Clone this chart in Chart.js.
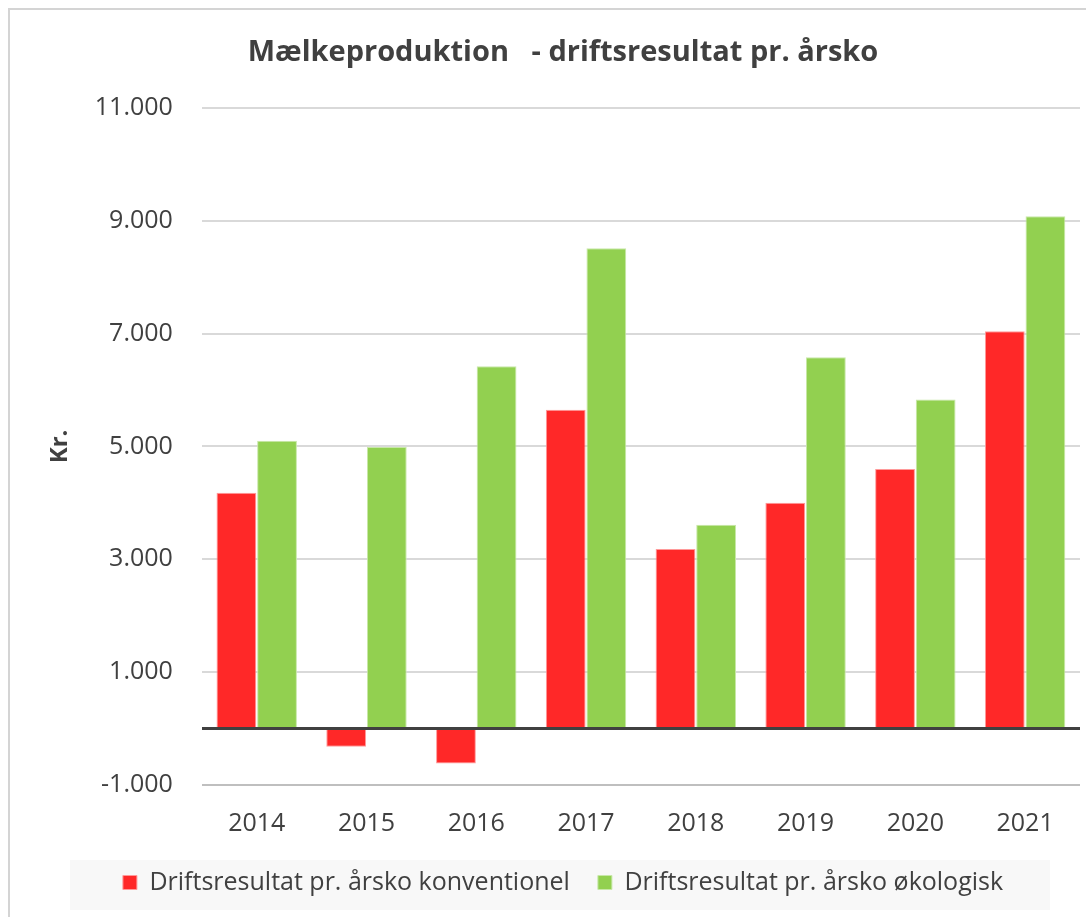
<!DOCTYPE html>
<html><head><meta charset="utf-8">
<script src="https://cdn.jsdelivr.net/npm/chart.js@4/dist/chart.umd.min.js"></script>
<style>
html,body{margin:0;padding:0;background:#fff;overflow:hidden}
#frame{position:absolute;left:8px;top:8px;width:2000px;height:2000px;border-top:2px solid #d4d4d4;border-left:2px solid #d4d4d4}
#wrap{position:absolute;left:0;top:0;width:1086px;height:917px}
</style></head><body>
<div id="frame"></div>
<div id="wrap"><canvas id="c" width="1086" height="917"></canvas></div>
<script>
const categories = ['2014','2015','2016','2017','2018','2019','2020','2021'];
const konventionel = [4180, -320, -620, 5650, 3180, 4000, 4600, 7040];
const oekologisk = [5100, 4990, 6420, 8510, 3610, 6580, 5830, 9080];
const yTicks = [-1000, 0, 1000, 3000, 5000, 7000, 9000, 11000];
const seriesNames = ['Driftsresultat pr. årsko konventionel', 'Driftsresultat pr. årsko økologisk'];

function fmt(v){
  const s = Math.abs(v).toString().replace(/\B(?=(\d{3})+(?!\d))/g, '.');
  return (v < 0 ? '-' : '') + s;
}

const LEG_PAD = 28, LEG_FONT = 25;
const legendBg = {
  id: 'legendBg',
  beforeDraw(chart){
    const l = chart.legend; const ctx = chart.ctx;
    const cy = l.top + LEG_PAD + LEG_FONT * 1.2 / 2;
    ctx.save();
    ctx.fillStyle = '#f8f8f8';
    ctx.fillRect(70, cy - 25, 980, 50);
    ctx.restore();
  }
};

new Chart(document.getElementById('c'), {
  type: 'bar',
  data: {
    labels: categories,
    datasets: [
      {label: seriesNames[0], data: konventionel, backgroundColor: '#ff2828', borderColor: '#ff9a9a', borderWidth: 1},
      {label: seriesNames[1], data: oekologisk, backgroundColor: '#92d050', borderColor: '#c8e8a8', borderWidth: 1}
    ]
  },
  options: {
    responsive: false,
    animation: false,
    devicePixelRatio: 1,
    layout: {padding: {left: 46, right: 6, top: 35, bottom: 12}},
    datasets: {bar: {categoryPercentage: 0.74, barPercentage: 0.98}},
    plugins: {
      title: {display: true, text: 'Mælkeproduktion   - driftsresultat pr. årsko', color: '#404040',
        font: {family: 'Open Sans', size: 29, weight: 'bold'}, padding: {top: 0, bottom: 38}},
      legend: {position: 'bottom', labels: {color: '#404040', font: {family: 'Open Sans', size: LEG_FONT},
        boxWidth: 14, boxHeight: 14, padding: LEG_PAD}},
      tooltip: {enabled: false}
    },
    scales: {
      x: {
        grid: {display: false, drawTicks: false},
        border: {display: false},
        ticks: {color: '#404040', font: {family: 'Open Sans', size: 25}, padding: 24},
        afterFit(scale){ scale.height -= 21; }
      },
      y: {
        min: -1000, max: 11000,
        afterBuildTicks(scale){ scale.ticks = yTicks.map(v => ({value: v})); },
        afterFit(scale){ scale.width -= 9; },
        border: {display: false},
        grid: {drawTicks: false,
          color: c => c.tick && c.tick.value === 0 ? '#404040' : (c.tick && c.tick.value === -1000 ? '#bfbfbf' : '#d9d9d9'),
          lineWidth: c => c.tick && c.tick.value === 0 ? 3 : 2},
        ticks: {color: '#404040', font: {family: 'Open Sans', size: 25}, padding: 29,
          callback: v => v === 0 ? '' : fmt(v)},
        title: {display: true, text: 'Kr.', color: '#404040', font: {family: 'Open Sans', size: 24, weight: 'bold'}, padding: {top: 0, bottom: 0}}
      }
    }
  },
  plugins: [legendBg]
});
</script>
</body></html>
